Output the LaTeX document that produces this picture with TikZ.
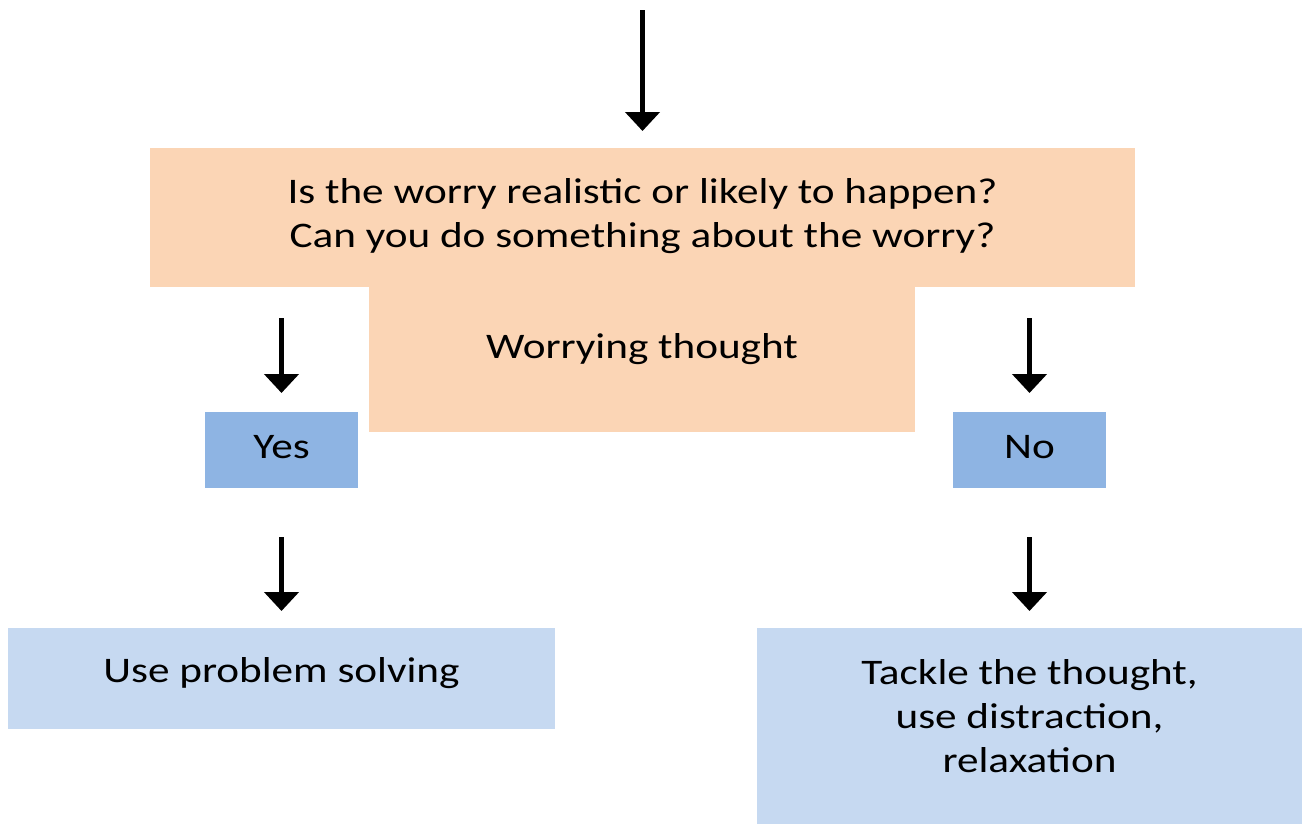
\documentclass[tikz,border=0pt]{standalone}
\usepackage{fontspec}
\setmainfont{Carlito}[FakeStretch=1.2]
\usetikzlibrary{arrows.meta}
\definecolor{peach}{HTML}{FBD5B5}
\definecolor{midblue}{HTML}{8EB4E3}
\definecolor{paleblue}{HTML}{C6D9F1}
\tikzstyle{box}=[anchor=north west, inner sep=0pt, outer sep=0pt, align=center, font=\fontsize{36}{44}\selectfont]
\tikzstyle{down}=[line width=5pt, -{Triangle[width=34pt,length=19pt]}]

\begin{document}
\begin{tikzpicture}[x=1pt, y=-1pt]
    \useasboundingbox (0,0) rectangle (1303,825);
% Question
    \node[box, fill=peach, minimum width=546pt, text height=71pt, text depth=74pt] (thought) at (369,287) {Worrying thought};
    \node[box, fill=peach, minimum width=985pt, text height=99pt, text depth=40pt] (question) at (150,148) {Is the worry realistic or likely to happen?\\ Can you do something about the worry?};
% Answers
    \node[box, fill=midblue, minimum width=153pt, text height=46pt, text depth=30pt] (yes) at (205,412) {Yes};
    \node[box, fill=midblue, minimum width=153pt, text height=46pt, text depth=30pt] (no) at (953,412) {No};
% Actions
    \node[box, fill=paleblue, minimum width=547pt, text height=54pt, text depth=47pt] (solve) at (8,628) {Use problem solving};
    \node[box, fill=paleblue, minimum width=545pt, text height=144pt, text depth=52pt] (tackle) at (757,628) {Tackle the thought,\\ use distraction,\\ relaxation};
% Arrows
    \coordinate (entry) at (642.5,10);
    \draw[down] (entry) -- ([yshift=17pt]question.north);
    \draw[down] ([yshift=94pt]yes.north) -- ([yshift=19pt]yes.north);
    \draw[down] ([yshift=94pt]no.north) -- ([yshift=19pt]no.north);
    \draw[down] ([yshift=-49pt]yes.south) -- ([yshift=17pt]solve.north);
    \draw[down] ([yshift=-49pt]no.south) -- ([yshift=17pt]tackle.north);
\end{tikzpicture}
\end{document}
